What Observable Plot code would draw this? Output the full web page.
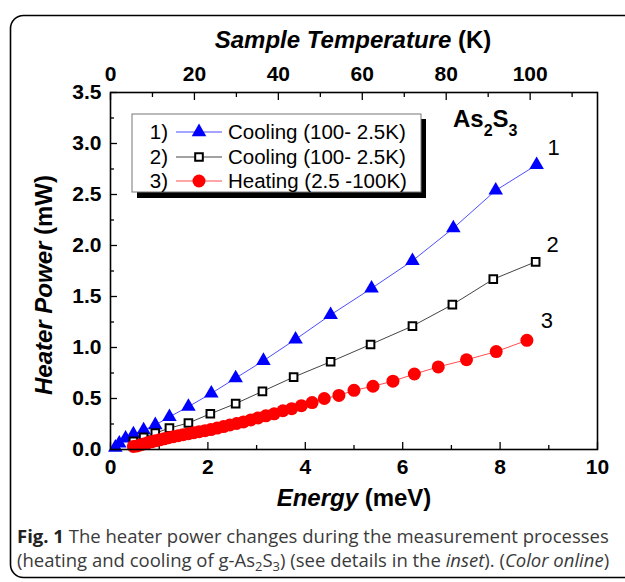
<!DOCTYPE html>
<html>
<head>
<meta charset="utf-8">
<script src="https://cdn.jsdelivr.net/npm/d3@7"></script>
<script src="https://cdn.jsdelivr.net/npm/@observablehq/plot@0.6"></script>
<style>
  html, body { margin: 0; padding: 0; background: #fff; }
  svg { display: block; }
</style>
</head>
<body>
<div id="chart"></div>
<script>
// ---- Data ----
const energy1 = [8.75, 7.91, 7.04, 6.20, 5.36, 4.52, 3.80, 3.14, 2.57, 2.07, 1.60, 1.21, 0.92, 0.68, 0.47, 0.31, 0.18, 0.10];
const power1  = [2.79, 2.54, 2.17, 1.85, 1.58, 1.32, 1.08, 0.87, 0.70, 0.55, 0.42, 0.32, 0.24, 0.19, 0.15, 0.11, 0.06, 0.02];

const energy2 = [8.73, 7.86, 7.02, 6.20, 5.34, 4.52, 3.76, 3.12, 2.57, 2.05, 1.60, 1.21, 0.92, 0.68, 0.47];
const power2  = [1.84, 1.67, 1.42, 1.21, 1.03, 0.86, 0.71, 0.57, 0.45, 0.35, 0.26, 0.21, 0.16, 0.12, 0.08];

const energy3 = [0.47, 0.54, 0.61, 0.68, 0.76, 0.84, 0.92, 1.01, 1.10, 1.19, 1.29, 1.39, 1.49, 1.60, 1.71, 1.82, 1.94, 2.06, 2.19, 2.32, 2.45, 2.59, 2.73, 2.88, 3.03, 3.19, 3.36, 3.54, 3.72, 3.92, 4.14, 4.39, 4.69, 5.00, 5.39, 5.80, 6.24, 6.73, 7.31, 7.92, 8.55];
const power3  = [0.03, 0.035, 0.045, 0.055, 0.065, 0.075, 0.085, 0.095, 0.105, 0.115, 0.125, 0.135, 0.145, 0.155, 0.165, 0.175, 0.185, 0.195, 0.21, 0.225, 0.24, 0.255, 0.27, 0.29, 0.31, 0.33, 0.35, 0.38, 0.40, 0.43, 0.46, 0.50, 0.53, 0.58, 0.62, 0.67, 0.74, 0.81, 0.88, 0.96, 1.07];

const seriesNames = ["Cooling (100- 2.5K)", "Cooling (100- 2.5K)", "Heating (2.5 -100K)"];
const seriesTags = ["1)", "2)", "3)"];
const endLabels = ["1", "2", "3"];

const energyTicks = [0, 2, 4, 6, 8, 10];
const energyMinor = [1, 3, 5, 7, 9];
const powerTicks = [0, 0.5, 1.0, 1.5, 2.0, 2.5, 3.0, 3.5];
const powerMinor = [0.25, 0.75, 1.25, 1.75, 2.25, 2.75, 3.25];
const tempTicks = [0, 20, 40, 60, 80, 100];
const tempMinor = [10, 30, 50, 70, 90, 110];
const kB = 0.08617; // meV per K

const s1 = energy1.map((e, i) => ({e, p: power1[i]}));
const s2 = energy2.map((e, i) => ({e, p: power2[i]}));
const s3 = energy3.map((e, i) => ({e, p: power3[i]}));
const last1 = [s1[0]], last2 = [s2[0]], last3 = [s3[s3.length - 1]];

const FONT = "'Liberation Sans', Arial, Helvetica, sans-serif";
const W = 625, H = 582;

const chart = Plot.plot({
  width: W,
  height: H,
  marginLeft: 110,
  marginRight: 28,
  marginTop: 92,
  marginBottom: 133,
  style: {fontFamily: FONT, background: "white", overflow: "visible"},
  x: {domain: [0, 10]},
  y: {domain: [0, 3.5]},
  marks: [
    // bottom axis
    Plot.axisX({anchor: "bottom", ticks: energyTicks, tickSize: -7, fill: "none", stroke: "black", strokeWidth: 1.3}),
    Plot.axisX({anchor: "bottom", ticks: energyMinor, tickSize: -4, fill: "none", stroke: "black", strokeWidth: 1.3}),
    Plot.axisX({anchor: "bottom", ticks: energyTicks, tickSize: 0, tickPadding: 10, tickFormat: d => String(d), fontSize: 21, fontWeight: "bold", fill: "black", label: null}),
    // top axis (temperature)
    Plot.axisX({anchor: "top", ticks: tempTicks.map(t => t * kB), tickSize: -7, fill: "none", stroke: "black", strokeWidth: 1.3}),
    Plot.axisX({anchor: "top", ticks: tempMinor.map(t => t * kB), tickSize: -4, fill: "none", stroke: "black", strokeWidth: 1.3}),
    Plot.axisX({anchor: "top", ticks: tempTicks.map(t => t * kB), tickSize: 0, tickPadding: 12, tickFormat: d => String(Math.round(d / kB)), fontSize: 21, fontWeight: "bold", fill: "black", label: null}),
    // left axis
    Plot.axisY({anchor: "left", ticks: powerTicks, tickSize: -7, fill: "none", stroke: "black", strokeWidth: 1.3}),
    Plot.axisY({anchor: "left", ticks: powerMinor, tickSize: -4, fill: "none", stroke: "black", strokeWidth: 1.3}),
    Plot.axisY({anchor: "left", ticks: powerTicks, tickSize: 0, tickPadding: 9, tickFormat: d3.format(".1f"), fontSize: 21, fontWeight: "bold", fill: "black", label: null}),
    // series 1
    Plot.line(s1, {x: "e", y: "p", stroke: "#4d4dff", strokeWidth: 1}),
    Plot.dot(s1, {x: "e", y: "p", symbol: "triangle", r: 5.4, fill: "#0000ff", stroke: "none"}),
    // series 2
    Plot.line(s2, {x: "e", y: "p", stroke: "#444", strokeWidth: 1}),
    Plot.dot(s2, {x: "e", y: "p", symbol: "square", r: 4.3, fill: "white", stroke: "black", strokeWidth: 2}),
    // series 3
    Plot.line(s3, {x: "e", y: "p", stroke: "#ff4d4d", strokeWidth: 1}),
    Plot.dot(s3, {x: "e", y: "p", symbol: "circle", r: 6.5, fill: "#ff0000", stroke: "none"}),
    // end labels
    Plot.text(last1, {x: "e", y: "p", text: () => endLabels[0], dx: 17, dy: -17, fontSize: 22, fill: "black", textAnchor: "middle"}),
    Plot.text(last2, {x: "e", y: "p", text: () => endLabels[1], dx: 17, dy: -17, fontSize: 22, fill: "black", textAnchor: "middle"}),
    Plot.text(last3, {x: "e", y: "p", text: () => endLabels[2], dx: 20, dy: -19, fontSize: 22, fill: "black", textAnchor: "middle"}),
    Plot.frame({stroke: "black", strokeWidth: 1.6})
  ]
});

const svg = d3.select(chart);
svg.attr("font-family", FONT);

// outer rounded border
svg.insert("rect", ":first-child")
  .attr("x", 10.5).attr("y", 15.5).attr("width", 660).attr("height", 562)
  .attr("rx", 13).attr("fill", "white").attr("stroke", "black").attr("stroke-width", 1.6);

// axis titles
const t1 = svg.append("text").attr("x", 353).attr("y", 48).attr("text-anchor", "middle")
  .attr("font-size", 24).attr("font-weight", "bold").attr("fill", "black");
t1.append("tspan").attr("font-style", "italic").text("Sample Temperature");
t1.append("tspan").text(" (K)");

const t2 = svg.append("text").attr("x", 354).attr("y", 506).attr("text-anchor", "middle")
  .attr("font-size", 24).attr("font-weight", "bold").attr("fill", "black");
t2.append("tspan").attr("font-style", "italic").text("Energy");
t2.append("tspan").text(" (meV)");

const t3 = svg.append("text").attr("transform", "translate(52,285) rotate(-90)").attr("text-anchor", "middle")
  .attr("font-size", 24).attr("font-weight", "bold").attr("fill", "black");
t3.append("tspan").attr("font-style", "italic").text("Heater Power");
t3.append("tspan").text(" (mW)");

// compound label
const t4 = svg.append("text").attr("x", 453).attr("y", 127).attr("text-anchor", "start").attr("font-size", 24).attr("font-weight", "bold").attr("fill", "black");
t4.append("tspan").text("As");
t4.append("tspan").attr("font-size", 16).attr("dy", 9).text("2");
t4.append("tspan").attr("dy", -9).text("S");
t4.append("tspan").attr("font-size", 16).attr("dy", 9).text("3");

// legend
const lg = svg.append("g");
lg.append("rect").attr("x", 137).attr("y", 119).attr("width", 289).attr("height", 79).attr("fill", "black");
lg.append("rect").attr("x", 132).attr("y", 114).attr("width", 289).attr("height", 78).attr("fill", "white").attr("stroke", "#777").attr("stroke-width", 1);
const rowsY = [132, 157, 181];
const lineColors = ["#4d4dff", "#444", "#ff4d4d"];
rowsY.forEach((y, i) => {
  lg.append("text").attr("x", 168).attr("y", y + 7).attr("text-anchor", "end").attr("font-size", 20.5).attr("fill", "black").text(seriesTags[i]);
  lg.append("line").attr("x1", 176).attr("x2", 222).attr("y1", y).attr("y2", y).attr("stroke", lineColors[i]).attr("stroke-width", 1);
  lg.append("text").attr("x", 228).attr("y", y + 7).attr("text-anchor", "start").attr("font-size", 20.5).attr("fill", "black").text(seriesNames[i]);
});
lg.append("path").attr("transform", `translate(199,${rowsY[0]})`).attr("d", d3.symbol(d3.symbolTriangle, Math.PI * 5.4 * 5.4)()).attr("fill", "#0000ff");
lg.append("path").attr("transform", `translate(199,${rowsY[1]})`).attr("d", d3.symbol(d3.symbolSquare, Math.PI * 4.3 * 4.3)()).attr("fill", "white").attr("stroke", "black").attr("stroke-width", 2);
lg.append("circle").attr("cx", 199).attr("cy", rowsY[2]).attr("r", 6.5).attr("fill", "#ff0000");

// caption
const CF = "'Open Sans', 'Noto Sans', sans-serif";
const c1 = svg.append("text").attr("x", 17).attr("y", 543).attr("text-anchor", "start").attr("font-family", CF).attr("font-size", 18.5).attr("fill", "#3a3a3a");
c1.append("tspan").attr("font-weight", "bold").attr("fill", "#222").text("Fig. 1");
c1.append("tspan").text(" The heater power changes during the measurement processes");
const c2 = svg.append("text").attr("x", 17).attr("y", 567).attr("text-anchor", "start").attr("font-family", CF).attr("font-size", 18.5).attr("fill", "#3a3a3a");
c2.append("tspan").text("(heating and cooling of g-As");
c2.append("tspan").attr("font-size", 13).attr("dy", 4).text("2");
c2.append("tspan").attr("dy", -4).text("S");
c2.append("tspan").attr("font-size", 13).attr("dy", 4).text("3");
c2.append("tspan").attr("dy", -4).text(") (see details in the ");
c2.append("tspan").attr("font-style", "italic").text("inset");
c2.append("tspan").text("). (");
c2.append("tspan").attr("font-style", "italic").text("Color online");
c2.append("tspan").text(")");

document.getElementById("chart").appendChild(chart);
</script>
</body>
</html>
